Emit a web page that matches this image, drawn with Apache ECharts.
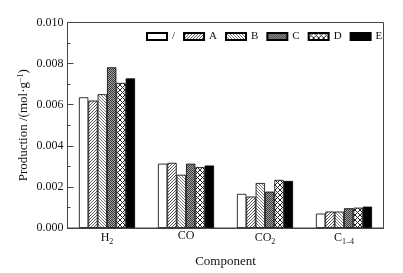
<!DOCTYPE html>
<html><head><meta charset="utf-8">
<script src="https://cdn.jsdelivr.net/npm/echarts@6/dist/echarts.min.js"></script>
<style>html,body{margin:0;padding:0;background:#fff}#c{width:403px;height:273px}</style>
</head><body><div id="c"></div>
<script>
const categories = ['H2', 'CO', 'CO2', 'C1-4'];
const seriesNames = ['/', 'A', 'B', 'C', 'D', 'E'];
const valSlash = [0.00636, 0.00313, 0.00166, 0.00070];
const valA     = [0.00620, 0.00317, 0.00153, 0.00080];
const valB     = [0.00651, 0.00259, 0.00219, 0.00080];
const valC     = [0.00782, 0.00313, 0.00177, 0.00096];
const valD     = [0.00706, 0.00296, 0.00234, 0.00099];
const valE     = [0.00728, 0.00304, 0.00229, 0.00104];
const yTicks = [0, 0.002, 0.004, 0.006, 0.008, 0.010];

function pat(size, bg, draw) {
  const c = document.createElement('canvas');
  c.width = size; c.height = size;
  const g = c.getContext('2d');
  g.fillStyle = bg; g.fillRect(0, 0, size, size);
  draw(g, size);
  return { image: c, repeat: 'repeat' };
}
function lines(g, segs, color, w) {
  g.strokeStyle = color; g.lineWidth = w;
  g.beginPath();
  segs.forEach(s => { g.moveTo(s[0], s[1]); g.lineTo(s[2], s[3]); });
  g.stroke();
}
const fills = [
  '#ffffff',
  pat(3, '#ffffff', (g, s) => lines(g, [[-1, s + 1, s + 1, -1], [-1, 1, 1, -1], [s - 1, s + 1, s + 1, s - 1]], '#444', 0.9)),
  pat(3, '#ffffff', (g, s) => lines(g, [[-1, -1, s + 1, s + 1], [s - 1, -1, s + 1, 1], [-1, s - 1, 1, s + 1]], '#555', 0.8)),
  pat(2, '#a0a0a0', (g) => { g.fillStyle = '#3a3a3a'; g.fillRect(0, 0, 1, 1); g.fillRect(1, 1, 1, 1); }),
  pat(5, '#ffffff', (g, s) => lines(g, [[-1, -1, s + 1, s + 1], [-1, s + 1, s + 1, -1]], '#222', 1)),
  '#000000'
];
const allVals = [valSlash, valA, valB, valC, valD, valE];

const serif = 'Liberation Serif';
function catLabel(v) {
  if (v === 'H2') return 'H{sub|2}';
  if (v === 'CO2') return 'CO{sub|2}';
  if (v === 'C1-4') return 'C{sub|1\u20134}';
  return v;
}

const chart = echarts.init(document.getElementById('c'), null, { renderer: 'canvas' });
chart.setOption({
  animation: false,
  backgroundColor: '#fff',
  textStyle: { fontFamily: serif, color: '#111' },
  legend: {
    left: 141, top: 26,
    icon: 'rect',
    itemWidth: 20, itemHeight: 7, itemGap: 8,
    textStyle: { fontFamily: serif, fontSize: 11, color: '#111' },
    data: seriesNames
  },
  grid: { left: 67.5, right: 19.5, top: 22.5, bottom: 42, show: true, borderColor: '#444', borderWidth: 1 },
  xAxis: {
    type: 'category',
    data: categories,
    name: 'Component',
    nameLocation: 'middle',
    nameGap: 27,
    nameMoveOverlap: false,
    nameTextStyle: { fontFamily: serif, fontSize: 13, color: '#111' },
    axisLine: { lineStyle: { color: '#444', width: 1 } },
    axisTick: { inside: true, length: 3, lineStyle: { color: '#444' } },
    axisLabel: {
      margin: 2,
      formatter: catLabel,
      fontFamily: serif, fontSize: 12, color: '#111',
      rich: { sub: { fontSize: 8, fontFamily: serif, color: '#111', padding: [8, 0, 0, 0] } }
    }
  },
  yAxis: {
    type: 'value',
    min: 0, max: 0.010, interval: 0.002,
    name: 'Production /(mol\u00b7g{sup|\u22121})',
    nameLocation: 'middle',
    nameGap: 36,
    nameMoveOverlap: false,
    nameRotate: 90,
    nameTextStyle: {
      fontFamily: serif, fontSize: 13, color: '#111',
      rich: { sup: { fontSize: 8, fontFamily: serif, color: '#111', padding: [0, 0, 7, 0] } }
    },
    axisLine: { show: true, lineStyle: { color: '#444', width: 1 } },
    axisTick: { show: true, inside: true, length: 6, lineStyle: { color: '#444' } },
    minorTick: { show: true, splitNumber: 2, length: 3, lineStyle: { color: '#444' } },
    splitLine: { show: false },
    axisLabel: {
      margin: 4, fontFamily: serif, fontSize: 12, color: '#111',
      formatter: v => yTicks.find(t => Math.abs(t - v) < 1e-9) !== undefined ? v.toFixed(3) : ''
    }
  },
  series: seriesNames.map((n, i) => ({
    name: n,
    type: 'bar',
    data: allVals[i],
    barGap: '0%',
    barCategoryGap: '29%',
    itemStyle: { color: fills[i], borderColor: '#000', borderWidth: 0.8 }
  }))
});
</script></body></html>
